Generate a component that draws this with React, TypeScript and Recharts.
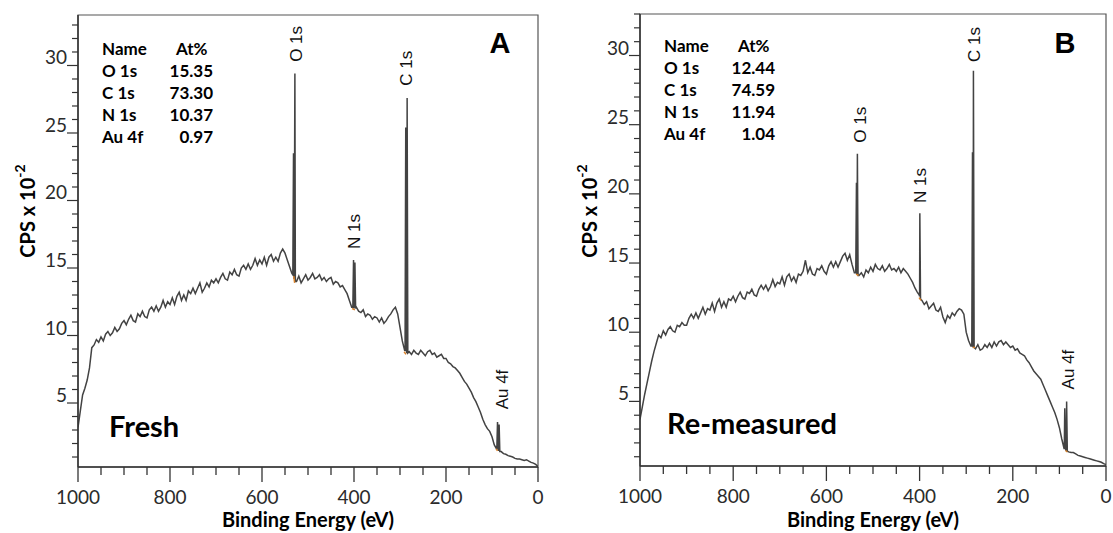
import React from "react";
import { LineChart, Line, XAxis, YAxis, ReferenceArea, ReferenceDot } from "recharts";

// survey spectra sampled every 5 eV from 1000 eV down to 0 eV (CPS x 10^-2)
const GRID_STEP = 5;

const countsFresh = [
  3.2, 4.4, 5.6, 6.1, 6.7, 7.6, 9.1, 9.3, 9.7, 9.5,
  9.9, 9.6, 10.1, 10.3, 10.0, 10.2, 10.6, 10.3, 10.5, 10.9,
  11.1, 10.8, 11.2, 11.5, 11.1, 11.0, 11.6, 11.4, 11.8, 11.4,
  11.3, 11.9, 12.1, 11.8, 12.2, 11.8, 12.1, 12.6, 12.1, 12.5,
  12.3, 12.8, 12.3, 12.9, 13.2, 12.6, 13.0, 12.6, 13.3, 13.1,
  13.5, 13.1, 13.5, 13.9, 13.2, 13.5, 13.9, 13.6, 14.1, 13.9,
  14.2, 13.9, 14.3, 14.6, 14.2, 14.1, 14.7, 14.5, 14.9, 14.5,
  14.4, 15.0, 15.2, 14.9, 15.3, 14.9, 15.2, 15.7, 15.2, 15.6,
  15.3, 15.8, 15.2, 15.8, 16.0, 15.5, 15.8, 15.5, 16.1, 16.4,
  16.1, 15.6, 15.1, 14.6, 14.2, 14.0, 14.4, 13.9, 14.2, 14.5,
  14.1, 14.3, 14.6, 14.2, 14.3, 14.5, 14.1, 14.3, 14.0, 14.2,
  14.3, 13.8, 14.0, 13.9, 13.6, 13.7, 13.4, 13.1, 12.6, 12.1,
  12.0, 12.1, 11.8, 11.7, 11.9, 11.4, 11.6, 11.5, 11.2, 11.4,
  11.3, 11.0, 11.3, 10.9, 11.1, 11.4, 11.6, 11.9, 12.1, 11.6,
  10.6, 9.6, 8.9, 8.7, 8.8, 8.6, 8.9, 8.7, 8.6, 8.9,
  8.7, 8.5, 8.8, 8.9, 8.6, 8.7, 8.4, 8.5, 8.6, 8.3,
  8.3, 8.0, 7.9, 7.7, 7.6, 7.4, 7.2, 6.9, 6.6, 6.4,
  6.1, 5.8, 5.4, 5.1, 4.7, 4.3, 3.8, 3.4, 3.1, 2.9,
  2.5, 1.9, 1.6, 1.5, 1.4, 1.25, 1.2, 1.1, 1.05, 1.0,
  0.9, 0.85, 0.85, 0.8, 0.75, 0.8, 0.7, 0.6, 0.55, 0.45,
  0.3,
];

const countsRemeasured = [
  3.7, 4.6, 5.5, 6.3, 7.1, 7.9, 8.6, 9.2, 9.8, 9.6,
  10.1, 9.8, 10.2, 10.4, 10.1, 10.0, 10.5, 10.4, 10.7, 10.5,
  10.5, 11.0, 11.3, 11.0, 11.4, 11.0, 11.4, 11.8, 11.3, 11.7,
  11.6, 12.1, 11.5, 12.1, 12.4, 11.8, 12.2, 11.8, 12.4, 12.3,
  12.6, 12.2, 12.6, 12.9, 12.5, 12.4, 12.9, 12.8, 13.1, 12.7,
  12.6, 13.1, 13.4, 13.1, 13.4, 13.0, 13.3, 13.8, 13.3, 13.6,
  13.5, 14.0, 13.4, 14.0, 14.2, 13.7, 14.0, 13.6, 14.2, 14.1,
  14.4, 15.2, 14.3, 14.7, 14.2, 14.1, 14.6, 14.5, 14.8, 14.4,
  14.2, 14.8, 15.1, 14.7, 15.1, 14.7, 15.1, 15.5, 15.7, 15.2,
  15.6, 14.9, 14.3, 14.2, 14.1, 14.3, 14.0, 14.5, 14.3, 14.7,
  14.4, 14.9, 14.6, 14.5, 14.8, 14.4, 14.6, 14.9, 14.5, 14.6,
  14.4, 14.7, 14.3, 14.6, 14.4, 14.2, 13.9, 13.6, 13.2, 12.9,
  12.6, 12.3, 12.0, 12.2, 11.7, 11.9, 12.1, 11.6, 11.5, 11.8,
  11.1, 10.7, 11.2, 11.0, 11.4, 11.2, 11.5, 11.7, 11.6, 11.3,
  10.0, 9.4, 9.0, 8.9, 8.8, 9.1, 8.7, 8.8, 9.1, 8.9,
  9.2, 8.9, 9.3, 9.0, 9.3, 9.4, 9.1, 9.3, 9.1, 8.9,
  9.0, 8.7, 8.8, 8.5, 8.4, 8.3, 8.0, 7.8, 7.5, 7.2,
  7.0, 6.8, 6.6, 6.2, 5.8, 5.4, 5.0, 4.6, 4.2, 3.7,
  3.1, 2.3, 1.6, 1.45, 1.35, 1.3, 1.3, 1.2, 1.1, 1.05,
  1.0, 0.95, 0.9, 0.85, 0.8, 0.75, 0.7, 0.65, 0.6, 0.5,
  0.43,
];

// narrow core-level peaks: [binding energy, counts]
const peaksFresh: [number, number][] = [
  [533, 14.5], [531.5, 23.5], [530.5, 14.3], [528.5, 29.4], [527.5, 14.0],
  [402.5, 12.1], [401, 15.6], [399.5, 12.3], [398, 15.4], [396.5, 12.0],
  [289, 8.9], [287.5, 25.4], [286, 8.8], [284.5, 27.6], [283, 8.7],
  [89.5, 1.6], [88, 3.6], [86, 1.5], [84.5, 3.4], [83, 1.4],
];

const peaksRemeasured: [number, number][] = [
  [537, 14.3], [535.5, 20.8], [534.5, 14.2], [533.5, 22.9], [532, 14.1],
  [401, 12.7], [399.5, 18.6], [398, 12.4],
  [288, 9.0], [286.5, 23.0], [285.5, 9.0], [284.5, 28.9], [283, 8.9],
  [89.5, 1.6], [88.5, 4.5], [86.5, 1.5], [84.5, 5.0], [83, 1.4],
];

// small orange background-region marks at the peak bases
const marksFresh: [number, number][][] = [
  [[531, 14.4], [529, 13.9]],
  [[404, 12.0], [398, 11.9]],
  [[291, 8.8], [287, 8.6]],
  [[91, 1.6], [88, 1.45]],
];

const marksRemeasured: [number, number][][] = [
  [[536, 14.2], [531, 14.1]],
  [[401, 12.5], [397, 12.3]],
  [[286, 8.9], [281, 8.9]],
  [[87, 1.45], [83, 1.35]],
];

const peakLabelsFresh = [
  { text: "O 1s", be: 526, cps: 31.6 },
  { text: "C 1s", be: 285, cps: 29.8 },
  { text: "N 1s", be: 398, cps: 17.7 },
  { text: "Au 4f", be: 78, cps: 6.0 },
];

const peakLabelsRemeasured = [
  { text: "C 1s", be: 283, cps: 30.8 },
  { text: "O 1s", be: 526, cps: 25.0 },
  { text: "N 1s", be: 397, cps: 20.6 },
  { text: "Au 4f", be: 81, cps: 7.3 },
];

const elements = ["O 1s", "C 1s", "N 1s", "Au 4f"];
const atPctFresh = ["15.35", "73.30", "10.37", "0.97"];
const atPctRemeasured = ["12.44", "74.59", "11.94", "1.04"];

const X_TICKS = Array.from({ length: 21 }, (_, i) => i * 50);

const TICK_FONT = "Lato, 'Open Sans', sans-serif";

const buildRows = (counts: number[], peaks: [number, number][]) =>
  [
    ...counts.map((c, i) => ({ be: 1000 - i * GRID_STEP, cps: c })),
    ...peaks.map(([be, cps]) => ({ be, cps })),
  ].sort((a, b) => b.be - a.be);

const XTick = ({ x, y, payload }: any) => {
  const major = payload.value % 200 === 0;
  return (
    <g>
      <line x1={x} x2={x} y1={y} y2={y + (major ? 15 : 8)} stroke="#333" strokeWidth={1.3} />
      {major && (
        <text x={x} y={y + 37} textAnchor="middle" fontSize={19} fill="#2b2b2b" fontFamily={TICK_FONT}>
          {payload.value}
        </text>
      )}
    </g>
  );
};

const YTick = ({ x, y, payload }: any) => {
  const major = payload.value % 5 === 0;
  return (
    <g>
      <line x1={x - (major ? 11 : 6)} x2={x} y1={y} y2={y} stroke="#333" strokeWidth={1.2} />
      {major && (
        <text x={x - 11} y={y - 1} textAnchor="end" fontSize={19} fill="#2b2b2b" fontFamily={TICK_FONT}>
          {payload.value}
        </text>
      )}
    </g>
  );
};

interface PanelProps {
  counts: number[];
  peaks: [number, number][];
  marks: [number, number][][];
  labels: { text: string; be: number; cps: number }[];
  yMin: number;
  yMax: number;
  width: number;
  plotLeft: number;
  plotTop: number;
  plotBottom: number;
  rightGap: number;
}

const SurveyPanel = ({ counts, peaks, marks, labels, yMin, yMax, width, plotLeft, plotTop, plotBottom, rightGap }: PanelProps) => {
  const rows = buildRows(counts, peaks);
  const yTicks = Array.from({ length: 33 }, (_, i) => i + 1).filter((v) => v >= yMin && v <= yMax);

  return (
    <LineChart width={width} height={533} data={rows} margin={{ top: plotTop, right: rightGap, bottom: 0, left: 0 }}>
      <XAxis
        dataKey="be"
        type="number"
        domain={[0, 1000]}
        reversed
        allowDataOverflow
        ticks={X_TICKS}
        interval={0}
        height={533 - plotBottom}
        tickSize={0}
        tickMargin={0}
        tickLine={false}
        tick={<XTick />}
        axisLine={{ stroke: "#333", strokeWidth: 1.5 }}
      />
      <YAxis
        type="number"
        domain={[yMin, yMax]}
        allowDataOverflow
        ticks={yTicks}
        interval={0}
        width={plotLeft}
        tickSize={0}
        tickMargin={0}
        tickLine={false}
        tick={<YTick />}
        axisLine={{ stroke: "#333", strokeWidth: 1.5 }}
      />
      <ReferenceArea x1={0} x2={1000} y1={yMin} y2={yMax} fill="none" stroke="#555" strokeWidth={1.2} />
      <Line
        dataKey="cps"
        type="linear"
        stroke="#434343"
        strokeWidth={1.5}
        dot={false}
        isAnimationActive={false}
      />
      {marks.map((seg, i) => (
        <Line
          key={`mark-${i}`}
          data={seg.map(([be, cps]) => ({ be, cps }))}
          dataKey="cps"
          stroke="#d9822b"
          strokeWidth={1.5}
          dot={false}
          isAnimationActive={false}
        />
      ))}
      {labels.map((l) => (
        <ReferenceDot
          key={l.text}
          x={l.be}
          y={l.cps}
          r={0}
          shape={(p: any) => (
            <text
              transform={`translate(${p.cx},${p.cy}) rotate(-90)`}
              textAnchor="middle"
              dominantBaseline="central"
              fontSize={17}
              fill="#111"
              fontFamily="'Liberation Sans', Arial, sans-serif"
            >
              {l.text}
            </text>
          )}
        />
      ))}
    </LineChart>
  );
};

const CompositionTable = ({ x, top, values }: { x: number; top: number; values: string[] }) => (
  <g fontFamily={TICK_FONT} fontWeight="bold" fontSize={17} fill="#000">
    <text x={x} y={top}>Name</text>
    <text x={x + 74} y={top}>At%</text>
    {elements.map((el, i) => (
      <g key={el}>
        <text x={x} y={top + 22 * (i + 1)}>{el}</text>
        <text x={x + 111} y={top + 22 * (i + 1)} textAnchor="end">{values[i]}</text>
      </g>
    ))}
  </g>
);

const PanelText = ({ plotLeft, plotRight, letter, letterX, sample, sampleX, sampleY, tableX, tableTop, values, yTitleX }: any) => (
  <g>
    <CompositionTable x={tableX} top={tableTop} values={values} />
    <text x={letterX} y={53} textAnchor="middle" fontSize={29} fontWeight="bold" fontFamily="'Liberation Sans', Arial, sans-serif">
      {letter}
    </text>
    <text x={sampleX} y={sampleY} fontSize={29} fontWeight="bold" fontFamily={TICK_FONT}>
      {sample}
    </text>
    <text x={(plotLeft + plotRight) / 2} y={527} textAnchor="middle" fontSize={20} fontWeight="bold" fontFamily={TICK_FONT}>
      Binding Energy (eV)
    </text>
    <text
      transform={`translate(${yTitleX},211) rotate(-90)`}
      textAnchor="middle"
      dominantBaseline="central"
      fontSize={20}
      fontWeight="bold"
      fontFamily={TICK_FONT}
    >
      CPS x 10
      <tspan dy={-8} fontSize={14}>-2</tspan>
    </text>
  </g>
);

export default function App() {
  return (
    <div style={{ position: "absolute", left: 0, top: 0, width: 1113, height: 533, background: "#fff", overflow: "hidden" }}>
      <div style={{ position: "absolute", left: 0, top: 0 }}>
        <SurveyPanel
          counts={countsFresh}
          peaks={peaksFresh}
          marks={marksFresh}
          labels={peakLabelsFresh}
          yMin={0.26}
          yMax={33.74}
          width={560}
          plotLeft={78}
          plotTop={15}
          plotBottom={467}
          rightGap={22}
        />
      </div>
      <div style={{ position: "absolute", left: 560, top: 0 }}>
        <SurveyPanel
          counts={countsRemeasured}
          peaks={peaksRemeasured}
          marks={marksRemeasured}
          labels={peakLabelsRemeasured}
          yMin={0.33}
          yMax={33.0}
          width={553}
          plotLeft={80}
          plotTop={14}
          plotBottom={466}
          rightGap={7}
        />
      </div>
      <svg width={1113} height={533} style={{ position: "absolute", left: 0, top: 0, pointerEvents: "none" }}>
        <PanelText
          plotLeft={78}
          plotRight={538}
          letter="A"
          letterX={500}
          sample="Fresh"
          sampleX={109}
          sampleY={437}
          tableX={102}
          tableTop={55}
          values={atPctFresh}
          yTitleX={27}
        />
        <PanelText
          plotLeft={640}
          plotRight={1106}
          letter="B"
          letterX={1065}
          sample="Re-measured"
          sampleX={667}
          sampleY={434}
          tableX={664}
          tableTop={52}
          values={atPctRemeasured}
          yTitleX={589}
        />
      </svg>
    </div>
  );
}
